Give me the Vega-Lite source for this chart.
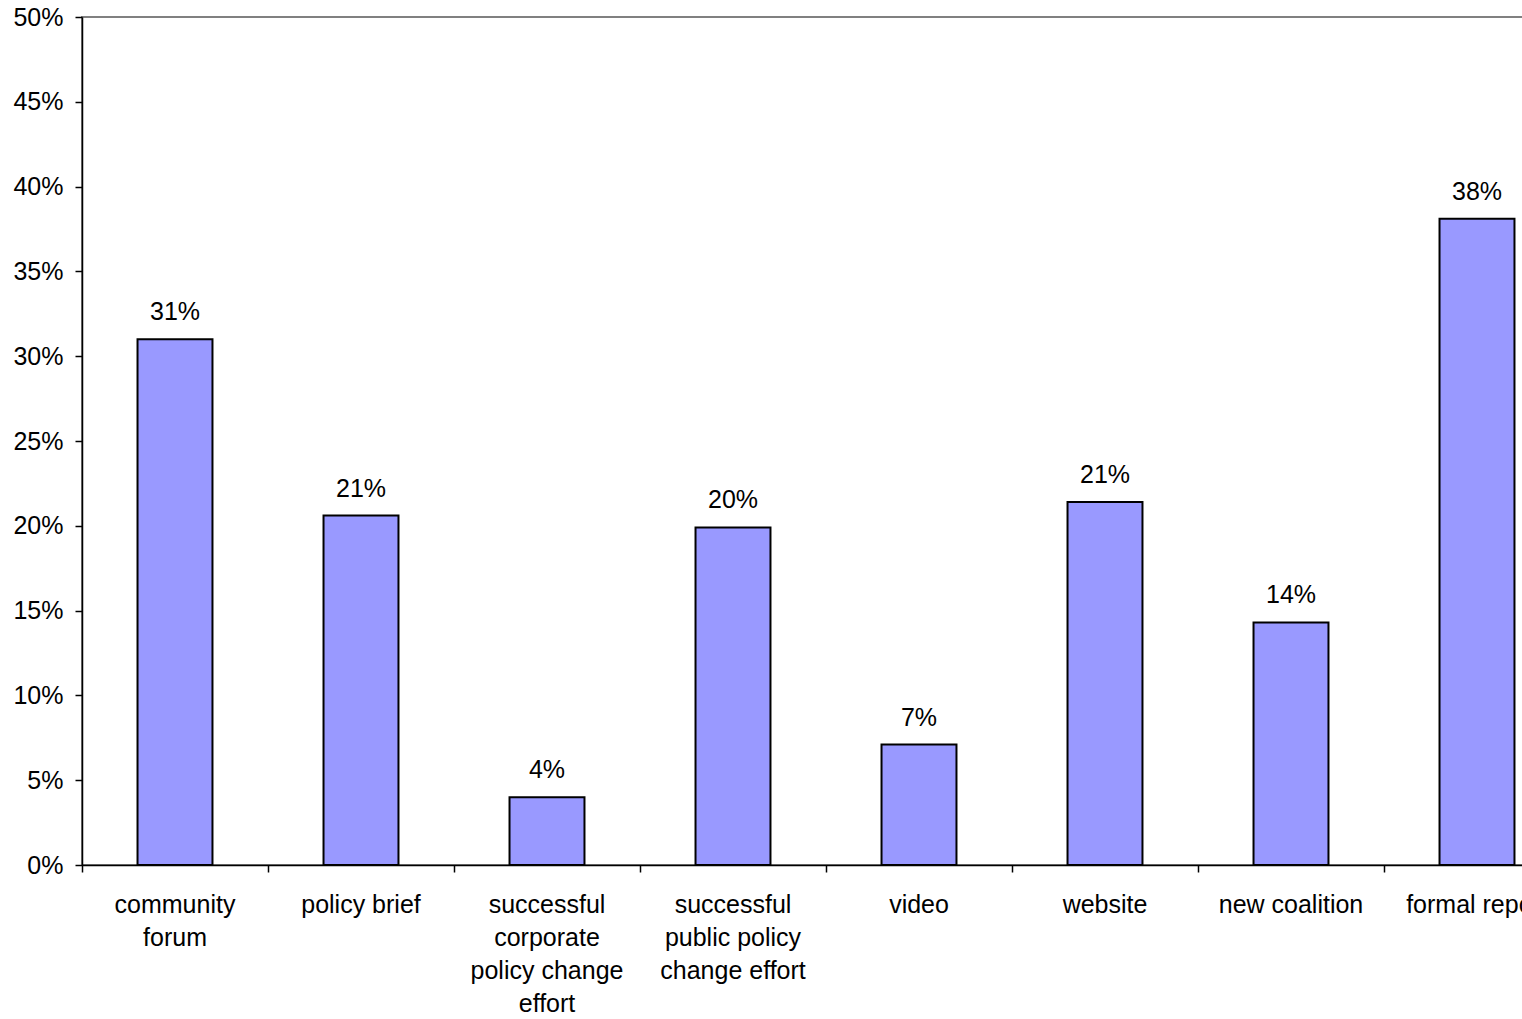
{
  "$schema": "https://vega.github.io/schema/vega-lite/v6.json",
  "width": 1444,
  "height": 848,
  "autosize": "none",
  "padding": {"left": 82, "top": 17, "right": 0, "bottom": 154},
  "background": "white",
  "config": {
    "font": "Liberation Sans",
    "view": {"stroke": "#808080", "strokeWidth": 2},
    "axis": {
      "labelFont": "Liberation Sans",
      "labelFontSize": 25,
      "labelColor": "black",
      "domainColor": "black",
      "domainWidth": 1.5,
      "tickColor": "black",
      "tickWidth": 1.5,
      "tickSize": 7,
      "grid": false,
      "title": null
    }
  },
  "data": {
    "values": [
      {"category": "community forum", "share": 0.31},
      {"category": "policy brief", "share": 0.206},
      {"category": "successful corporate policy change effort", "share": 0.04},
      {"category": "successful public policy change effort", "share": 0.199},
      {"category": "video", "share": 0.071},
      {"category": "website", "share": 0.214},
      {"category": "new coalition", "share": 0.143},
      {"category": "formal report", "share": 0.381}
    ]
  },
  "encoding": {
    "x": {
      "field": "category",
      "type": "nominal",
      "sort": null,
      "scale": {"range": [0, 1488], "paddingInner": 0, "paddingOuter": 0},
      "axis": {
        "labelAngle": 0,
        "labelPadding": 20,
        "labelBaseline": "top",
        "labelLineHeight": 33,
        "bandPosition": 0,
        "labelExpr": "datum.label == 'community forum' ? ['community', 'forum'] : datum.label == 'successful corporate policy change effort' ? ['successful', 'corporate', 'policy change', 'effort'] : datum.label == 'successful public policy change effort' ? ['successful', 'public policy', 'change effort'] : datum.label"
      }
    },
    "y": {
      "field": "share",
      "type": "quantitative",
      "scale": {"domain": [0, 0.5]},
      "axis": {"format": ".0%", "values": [0, 0.05, 0.1, 0.15, 0.2, 0.25, 0.3, 0.35, 0.4, 0.45, 0.5], "labelOverlap": false, "labelPadding": 12}
    }
  },
  "layer": [
    {
      "mark": {"type": "bar", "width": {"band": 0.403}, "color": "#9999FF", "stroke": "black", "strokeWidth": 2}
    },
    {
      "mark": {"type": "text", "fontSize": 25, "baseline": "alphabetic", "dy": -19, "color": "black"},
      "encoding": {
        "text": {"field": "share", "type": "quantitative", "format": ".0%"}
      }
    }
  ]
}
